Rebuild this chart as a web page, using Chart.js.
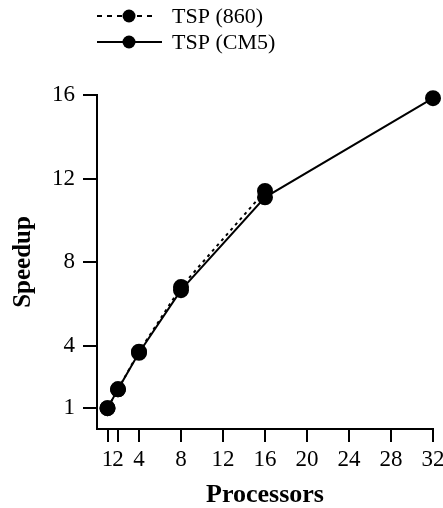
<!DOCTYPE html>
<html>
<head>
<meta charset="utf-8">
<script src="https://cdn.jsdelivr.net/npm/chart.js@4"></script>
<style>
  html, body { margin: 0; padding: 0; background: #fff; }
  #wrap { width: 443px; height: 508px; }
</style>
</head>
<body>
<div id="wrap"><canvas id="chart" width="443" height="508"></canvas></div>
<script>
// processors (x) and speedup values
const procs860 = [1, 2, 4, 8, 16];
const speed860 = [1, 1.9, 3.7, 6.8, 11.4];
const procsCM5 = [1, 2, 4, 8, 16, 32];
const speedCM5 = [1, 1.9, 3.65, 6.65, 11.1, 15.85];

const xTicks = [1, 2, 4, 8, 12, 16, 20, 24, 28, 32];
const yTicks = [1, 4, 8, 12, 16];

const seriesNames = ["TSP (860)", "TSP (CM5)"];

const serif = "'Liberation Serif', 'DejaVu Serif', serif";

// legend with a line and a dot in the middle, like the original
const sampleLegend = {
  id: "sampleLegend",
  afterDraw(chart) {
    const ctx = chart.ctx;
    const rows = [
      { y: 16, dash: [5, 5], x0: 97, x1: 157 },
      { y: 42, dash: [], x0: 97, x1: 162 }
    ];
    ctx.save();
    rows.forEach((r, i) => {
      ctx.strokeStyle = "#000";
      ctx.lineWidth = 2;
      ctx.setLineDash(r.dash);
      ctx.beginPath();
      ctx.moveTo(r.x0, r.y);
      ctx.lineTo(r.x1, r.y);
      ctx.stroke();
      ctx.setLineDash([]);
      ctx.fillStyle = "#000";
      ctx.beginPath();
      ctx.arc(129, r.y, 6.5, 0, Math.PI * 2);
      ctx.fill();
      ctx.font = "22px " + serif;
      ctx.textBaseline = "middle";
      ctx.fillText(seriesNames[i], 172, r.y + 1);
    });
    ctx.restore();
  }
};

new Chart(document.getElementById("chart"), {
  type: "line",
  data: {
    datasets: [
      {
        label: seriesNames[0],
        data: procs860.map((p, i) => ({ x: p, y: speed860[i] })),
        borderColor: "#000",
        backgroundColor: "#000",
        borderWidth: 2,
        borderDash: [3, 4],
        pointRadius: 7,
        pointHoverRadius: 7,
        tension: 0,
        clip: false
      },
      {
        label: seriesNames[1],
        data: procsCM5.map((p, i) => ({ x: p, y: speedCM5[i] })),
        borderColor: "#000",
        backgroundColor: "#000",
        borderWidth: 2,
        pointRadius: 7,
        pointHoverRadius: 7,
        tension: 0,
        clip: false
      }
    ]
  },
  options: {
    responsive: false,
    animation: false,
    layout: { padding: { top: 95, right: 10, left: 0, bottom: 0 } },
    plugins: { legend: { display: false }, tooltip: { enabled: false } },
    scales: {
      x: {
        type: "linear",
        min: 0,
        max: 32,
        afterBuildTicks: scale => { scale.ticks = xTicks.map(v => ({ value: v })); },
        afterFit: scale => {
          scale.height = 79;
          // let the "32" label run to the edge like the original
          scale.paddingLeft = 0;
          scale.paddingRight = 0;
        },
        grid: { drawOnChartArea: false, drawTicks: true, tickLength: 13, color: "#000", lineWidth: 2 },
        border: { display: true, color: "#000", width: 2 },
        ticks: { color: "#000", font: { family: serif, size: 23 }, padding: 4, maxRotation: 0, autoSkip: false },
        title: { display: true, text: "Processors", color: "#000", font: { family: serif, size: 26, weight: "bold", lineHeight: 1 }, padding: { top: 4, bottom: 0 } }
      },
      y: {
        min: 0,
        max: 16,
        afterBuildTicks: scale => { scale.ticks = yTicks.map(v => ({ value: v })); },
        afterFit: scale => { scale.width = 97; },
        grid: { drawOnChartArea: false, drawTicks: true, tickLength: 14, color: "#000", lineWidth: 2 },
        border: { display: true, color: "#000", width: 2 },
        ticks: { color: "#000", font: { family: serif, size: 23 }, padding: 8, autoSkip: false },
        title: { display: true, text: "Speedup", color: "#000", font: { family: serif, size: 25, weight: "bold", lineHeight: 1 }, padding: { top: 11, bottom: 0 } }
      }
    }
  },
  plugins: [sampleLegend]
});
</script>
</body>
</html>
